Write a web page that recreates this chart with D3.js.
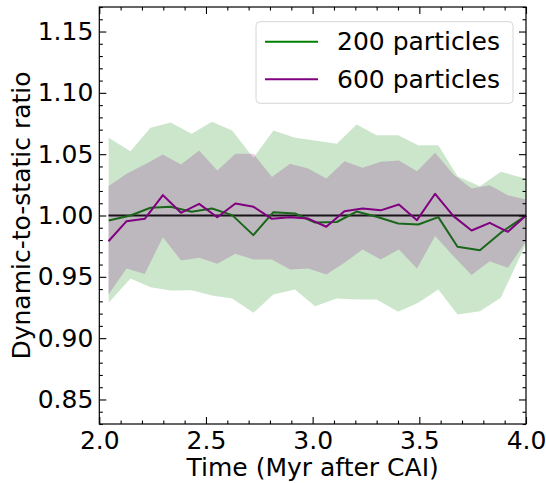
<!DOCTYPE html>
<html>
<head>
<meta charset="utf-8">
<script src="https://cdn.jsdelivr.net/npm/d3@7"></script>
<style>
  html, body { margin: 0; padding: 0; background: #fff; }
  svg { display: block; font-family: "DejaVu Sans", sans-serif; }
</style>
</head>
<body>
<svg id="chart" width="546" height="483"></svg>
<script>
// ---- data ----
const time200  = [2.044, 2.146, 2.240, 2.334, 2.433, 2.528, 2.623, 2.722, 2.816, 2.917, 3.011, 3.113, 3.206, 3.300, 3.401, 3.495, 3.589, 3.679, 3.784, 3.882, 4.000];
const ratio200 = [0.996, 1.000, 1.0063, 1.0071, 1.003, 1.0057, 1.0003, 0.984, 1.0027, 1.0016, 0.9943, 0.9947, 1.0032, 0.999, 0.9935, 0.9927, 0.9987, 0.9745, 0.9717, 0.986, 1.000];
const upper200 = [1.0633, 1.0524, 1.0715, 1.0758, 1.0666, 1.0764, 1.0693, 1.047, 1.0693, 1.0633, 1.0611, 1.0584, 1.0742, 1.0655, 1.0655, 1.0573, 1.0573, 1.032, 1.0239, 1.0356, 1.030];
const lower200 = [0.9288, 0.9486, 0.9416, 0.9389, 0.9391, 0.9348, 0.9323, 0.9207, 0.9356, 0.9397, 0.9261, 0.9323, 0.9315, 0.9315, 0.9215, 0.9288, 0.9397, 0.9193, 0.922, 0.9329, 0.977];

const time600  = [2.043, 2.128, 2.213, 2.298, 2.383, 2.468, 2.553, 2.638, 2.723, 2.809, 2.894, 2.979, 3.064, 3.149, 3.234, 3.319, 3.404, 3.489, 3.574, 3.660, 3.745, 3.830, 3.915, 4.000];
const ratio600 = [0.979, 0.9954, 0.9973, 1.0166, 1.0022, 1.0095, 0.9986, 1.0098, 1.0071, 0.9973, 0.9986, 0.9975, 0.9908, 1.0035, 1.0057, 1.0042, 1.009, 0.9962, 1.0177, 0.9995, 0.9878, 0.994, 0.9867, 1.000];
const upper600 = [1.0239, 1.034, 1.0416, 1.0497, 1.0416, 1.053, 1.0367, 1.0503, 1.0503, 1.0313, 1.0421, 1.0383, 1.0302, 1.0443, 1.0389, 1.0438, 1.0448, 1.0361, 1.0511, 1.0334, 1.022, 1.0247, 1.0166, 1.013];
const lower600 = [0.9356, 0.9568, 0.9524, 0.9823, 0.9633, 0.9655, 0.9606, 0.9688, 0.9641, 0.9641, 0.956, 0.9568, 0.9519, 0.9614, 0.9723, 0.9641, 0.9723, 0.9568, 0.9832, 0.9668, 0.9514, 0.9628, 0.9573, 0.979];

const refTime  = [2.043, 4.000];
const refRatio = [1.0, 1.0];

const xMajorTicks = [2.0, 2.5, 3.0, 3.5, 4.0];
const yMajorTicks = [0.85, 0.90, 0.95, 1.00, 1.05, 1.10, 1.15];
const seriesLabels = ["200 particles", "600 particles"];
const seriesColors = ["#008000", "#800080"];
const xLabel = "Time (Myr after CAI)";
const yLabel = "Dynamic-to-static ratio";

// ---- layout ----
const L = 99.3, R = 526, T = 7, B = 424;
const svg = d3.select("#chart");
const x = d3.scaleLinear().domain([2.0, 4.0]).range([L, R]);
const y = d3.scaleLinear().domain([0.83, 1.17]).range([B, T]);

const xMinor = d3.range(20, 41).map(d => d / 10).filter(v => !xMajorTicks.some(m => Math.abs(m - v) < 1e-9));
const yMinor = d3.range(83, 118).map(d => d / 100).filter(v => !yMajorTicks.some(m => Math.abs(m - v) < 1e-9));

const plot = svg.append("g");
const zip = (t, v) => t.map((d, i) => [d, v[i]]);
const line = d3.line().x(d => x(d[0])).y(d => y(d[1]));
const area = d3.area().x(d => x(d.t)).y0(d => y(d.lo)).y1(d => y(d.hi));

// drawing order as in the original: reference, (line, band) per series
plot.append("path").attr("d", line(zip(refTime, refRatio)))
  .attr("fill", "none").attr("stroke", "#000").attr("stroke-width", 2);

plot.append("path").attr("d", line(zip(time200, ratio200)))
  .attr("fill", "none").attr("stroke", seriesColors[0]).attr("stroke-width", 2).attr("stroke-linejoin", "round");
plot.append("path")
  .attr("d", area(time200.map((t, i) => ({t, lo: lower200[i], hi: upper200[i]}))))
  .attr("fill", seriesColors[0]).attr("fill-opacity", 0.2);

plot.append("path").attr("d", line(zip(time600, ratio600)))
  .attr("fill", "none").attr("stroke", seriesColors[1]).attr("stroke-width", 2).attr("stroke-linejoin", "round");
plot.append("path")
  .attr("d", area(time600.map((t, i) => ({t, lo: lower600[i], hi: upper600[i]}))))
  .attr("fill", seriesColors[1]).attr("fill-opacity", 0.2);

// ---- axes ----
function styleAxis(g) {
  g.select(".domain").remove();
  g.selectAll(".tick line").attr("stroke", "#000").attr("stroke-width", 1.1);
  g.selectAll("text").attr("font-size", 25).attr("fill", "#000").attr("font-family", "DejaVu Sans");
}
// bottom
svg.append("g").attr("transform", `translate(0,${B})`)
  .call(d3.axisBottom(x).tickValues(xMajorTicks).tickFormat(d3.format(".1f")).tickSize(-7).tickPadding(7).tickSizeOuter(0))
  .call(styleAxis);
svg.append("g").attr("transform", `translate(0,${B})`)
  .call(d3.axisBottom(x).tickValues(xMinor).tickFormat("").tickSize(-3.5).tickSizeOuter(0))
  .call(styleAxis);
// top
svg.append("g").attr("transform", `translate(0,${T})`)
  .call(d3.axisTop(x).tickValues(xMajorTicks).tickFormat("").tickSize(-7).tickSizeOuter(0))
  .call(styleAxis);
svg.append("g").attr("transform", `translate(0,${T})`)
  .call(d3.axisTop(x).tickValues(xMinor).tickFormat("").tickSize(-3.5).tickSizeOuter(0))
  .call(styleAxis);
// left
svg.append("g").attr("transform", `translate(${L},0)`)
  .call(d3.axisLeft(y).tickValues(yMajorTicks).tickFormat(d3.format(".2f")).tickSize(-7).tickPadding(6).tickSizeOuter(0))
  .call(styleAxis);
svg.append("g").attr("transform", `translate(${L},0)`)
  .call(d3.axisLeft(y).tickValues(yMinor).tickFormat("").tickSize(-3.5).tickSizeOuter(0))
  .call(styleAxis);
// right
svg.append("g").attr("transform", `translate(${R},0)`)
  .call(d3.axisRight(y).tickValues(yMajorTicks).tickFormat("").tickSize(-7).tickSizeOuter(0))
  .call(styleAxis);
svg.append("g").attr("transform", `translate(${R},0)`)
  .call(d3.axisRight(y).tickValues(yMinor).tickFormat("").tickSize(-3.5).tickSizeOuter(0))
  .call(styleAxis);

// frame
svg.append("rect").attr("x", L).attr("y", T).attr("width", R - L).attr("height", B - T)
  .attr("fill", "none").attr("stroke", "#000").attr("stroke-width", 1.2);

// axis labels
svg.append("text").attr("x", (L + R) / 2).attr("y", 476)
  .attr("text-anchor", "middle").attr("font-size", 25).attr("fill", "#000").text(xLabel);
svg.append("text").attr("transform", `translate(30,${(T + B) / 2}) rotate(-90)`)
  .attr("text-anchor", "middle").attr("font-size", 25).attr("fill", "#000").text(yLabel);

// ---- legend ----
const lg = svg.append("g");
lg.append("rect").attr("x", 256).attr("y", 21.7).attr("width", 257).attr("height", 81.6)
  .attr("rx", 4).attr("fill", "#fff").attr("fill-opacity", 0.8)
  .attr("stroke", "#d6d6d6").attr("stroke-width", 1);
const rowsY = [41.7, 79.3];
seriesLabels.forEach((lab, i) => {
  lg.append("line").attr("x1", 265).attr("x2", 318).attr("y1", rowsY[i]).attr("y2", rowsY[i])
    .attr("stroke", seriesColors[i]).attr("stroke-width", 2);
  lg.append("text").attr("x", 337).attr("y", rowsY[i]).attr("dy", "0.35em")
    .attr("font-size", 25).attr("fill", "#000").text(lab);
});
</script>
</body>
</html>
